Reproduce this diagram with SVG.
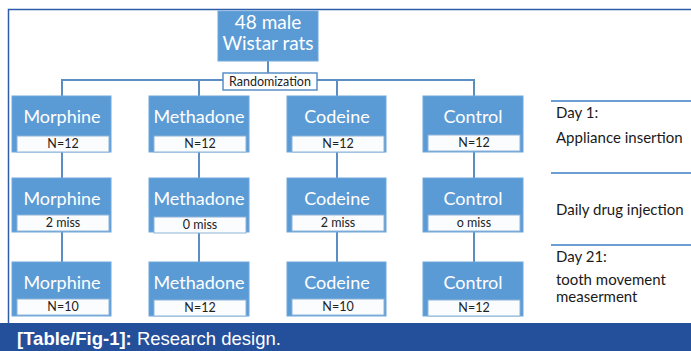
<svg xmlns="http://www.w3.org/2000/svg" width="691" height="351" viewBox="0 0 691 351">
<style>
.box{fill:#5b9bd5;stroke:#6fa8dc;stroke-width:1}
.sub{fill:#fafcfe;stroke:#8fb4d8;stroke-width:1}
.bt{font-family:Lato,"Liberation Sans",sans-serif;font-size:18px;fill:#ffffff;text-anchor:middle}
.tt{font-family:Lato,"Liberation Sans",sans-serif;font-size:19px;fill:#ffffff;text-anchor:middle}
.st{font-family:Lato,"Liberation Sans",sans-serif;font-size:12.5px;fill:#222222;text-anchor:middle}
.lt{font-family:Lato,"Liberation Sans",sans-serif;font-size:15px;fill:#1a1a1a}
.con{stroke:#5b8fc4;stroke-width:2;fill:none}
.sep{stroke:#6a9fd3;stroke-width:2}
</style>
<rect x="0" y="0" width="691" height="351" fill="#ffffff"/>
<path d="M8.5,351 V9.5 H691" fill="none" stroke="#2f5ca8" stroke-width="1.5"/>
<g id="connectors">
<path class="con" d="M268,61 V74"/>
<path class="con" d="M62,96 V80 H223 M317,80 H474 V96"/>
<path class="con" d="M199,80 V96 M337,80 V96"/>
<path class="con" d="M62,152 V178 M199,152 V178 M337,152 V178 M474,152 V178"/>
<path class="con" d="M62,232 V262 M199,232 V262 M337,232 V262 M474,232 V262"/>
</g>
<g id="top">
<rect class="box" x="218" y="11" width="100" height="50"/>
<text class="tt" x="268" y="29">48 male</text>
<text class="tt" x="268" y="50">Wistar rats</text>
</g>
<g id="randomization">
<rect x="223" y="73" width="94" height="17" fill="#ffffff" stroke="#5b8fc4" stroke-width="1.5"/>
<text class="st" x="270" y="86" font-size="11.5">Randomization</text>
</g>
<g id="morphine1"><rect class="box" x="12" y="96" width="99" height="56"/><text class="bt" x="62" y="123">Morphine</text><rect class="sub" x="17" y="136" width="92" height="16"/><text class="st" x="63" y="148">N=12</text></g>
<g id="methadone1"><rect class="box" x="149" y="96" width="100" height="56"/><text class="bt" x="199" y="123">Methadone</text><rect class="sub" x="154" y="136" width="92" height="16"/><text class="st" x="200" y="148">N=12</text></g>
<g id="codeine1"><rect class="box" x="287" y="96" width="99" height="56"/><text class="bt" x="337" y="123">Codeine</text><rect class="sub" x="292" y="136" width="92" height="16"/><text class="st" x="338" y="148">N=12</text></g>
<g id="control1"><rect class="box" x="423" y="96" width="100" height="56"/><text class="bt" x="473" y="123">Control</text><rect class="sub" x="428" y="135" width="92" height="16"/><text class="st" x="474" y="147">N=12</text></g>

<g id="morphine2"><rect class="box" x="12" y="178" width="99" height="54"/><text class="bt" x="62" y="205">Morphine</text><rect class="sub" x="17" y="215" width="92" height="16"/><text class="st" x="63" y="227">2 miss</text></g>
<g id="methadone2"><rect class="box" x="149" y="178" width="100" height="54"/><text class="bt" x="199" y="205">Methadone</text><rect class="sub" x="154" y="217" width="92" height="16"/><text class="st" x="200" y="229">0 miss</text></g>
<g id="codeine2"><rect class="box" x="287" y="178" width="99" height="54"/><text class="bt" x="337" y="205">Codeine</text><rect class="sub" x="292" y="215" width="92" height="16"/><text class="st" x="338" y="227">2 miss</text></g>
<g id="control2"><rect class="box" x="423" y="178" width="100" height="54"/><text class="bt" x="473" y="205">Control</text><rect class="sub" x="428" y="215" width="92" height="16"/><text class="st" x="474" y="227">o miss</text></g>

<g id="morphine3"><rect class="box" x="12" y="262" width="99" height="54"/><text class="bt" x="62" y="289">Morphine</text><rect class="sub" x="17" y="299" width="92" height="16"/><text class="st" x="63" y="311">N=10</text></g>
<g id="methadone3"><rect class="box" x="149" y="262" width="100" height="54"/><text class="bt" x="199" y="289">Methadone</text><rect class="sub" x="154" y="300" width="92" height="16"/><text class="st" x="200" y="312">N=12</text></g>
<g id="codeine3"><rect class="box" x="287" y="262" width="99" height="54"/><text class="bt" x="337" y="289">Codeine</text><rect class="sub" x="292" y="299" width="92" height="16"/><text class="st" x="338" y="311">N=10</text></g>
<g id="control3"><rect class="box" x="423" y="262" width="100" height="54"/><text class="bt" x="473" y="289">Control</text><rect class="sub" x="428" y="300" width="92" height="16"/><text class="st" x="474" y="312">N=12</text></g>

<g id="timeline">
<line class="sep" x1="551" y1="101" x2="691" y2="101"/>
<line class="sep" x1="551" y1="173" x2="691" y2="173"/>
<line class="sep" x1="551" y1="245" x2="691" y2="245"/>
<text class="lt" x="556" y="118">Day 1:</text>
<text class="lt" x="556" y="143">Appliance insertion</text>
<text class="lt" x="556" y="215">Daily drug injection</text>
<text class="lt" x="556" y="262">Day 21:</text>
<text class="lt" x="556" y="285">tooth movement</text>
<text class="lt" x="556" y="302">measerment</text>
</g>
<g id="caption">
<rect x="0" y="323" width="691" height="28" fill="#244f9a"/>
<text x="17" y="345" font-family="'Liberation Sans',Arial,sans-serif" font-size="18.5" fill="#ffffff"><tspan font-weight="bold">[Table/Fig-1]:</tspan> Research design.</text>
</g>
</svg>
